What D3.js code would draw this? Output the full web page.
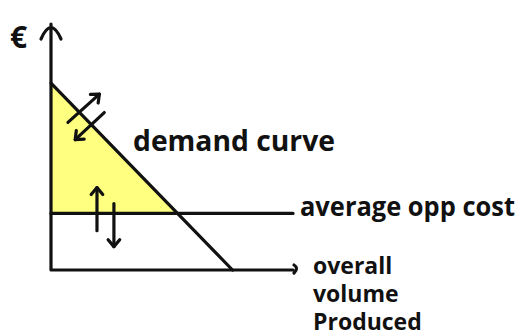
<!DOCTYPE html>
<html>
<head>
<meta charset="utf-8">
<script src="https://cdn.jsdelivr.net/npm/d3@7"></script>
<style>
  html, body { margin: 0; padding: 0; background: #fff; }
  text { font-family: "Open Sans", "DejaVu Sans", sans-serif; font-weight: 700; fill: #111; }
</style>
</head>
<body>
<div id="page"></div>
<script>
// chart values (quantity on x, price in euro on y, both 0..100)
var demandCurve = [[0, 76], [75, 0]];
var avgOppCost = 23;
var axisMax = [100, 100];
var yLabel = "€";
var demandLabel = "demand curve";
var costLabel = "average opp cost";
var xLabelLines = ["overall", "volume", "Produced"];

var width = 524, height = 334;

var svg = d3.select("#page").append("svg")
    .attr("width", width)
    .attr("height", height);

var x = d3.scaleLinear().domain([0, axisMax[0]]).range([51, 293]),
    y = d3.scaleLinear().domain([0, axisMax[1]]).range([270, 24]);

// where demand meets the average opp cost line
var slope = (demandCurve[1][1] - demandCurve[0][1]) / (demandCurve[1][0] - demandCurve[0][0]);
var qCross = demandCurve[0][0] + (avgOppCost - demandCurve[0][1]) / slope;

var line = d3.line().x(function(d) { return x(d[0]); }).y(function(d) { return y(d[1]); });

var ink = function(sel) {
  return sel.attr("fill", "none").attr("stroke", "#111")
    .attr("stroke-width", 3.2).attr("stroke-linecap", "round").attr("stroke-linejoin", "round");
};

// shaded triangle
svg.append("path")
    .attr("d", line([[0, demandCurve[0][1]], [0, avgOppCost], [qCross, avgOppCost]]) + "Z")
    .attr("fill", "#ffff80");

// axes
svg.append("path").attr("d", line([[0, axisMax[1]], [0, 0], [axisMax[0], 0]])).call(ink);
svg.append("path")
    .attr("d", "M" + (x(0) - 10) + "," + (y(axisMax[1]) + 15) + " Q" + x(0) + "," + (y(axisMax[1]) - 8) +
          " " + (x(0) + 10) + "," + (y(axisMax[1]) + 15))
    .call(ink);
svg.append("path")
    .attr("d", "M" + (x(axisMax[0]) + 1) + "," + (y(0) - 5) + " q5,3 0,8")
    .call(ink);

// average opp cost and demand
svg.append("path").attr("d", line([[0, avgOppCost], [axisMax[0], avgOppCost]])).call(ink);
svg.append("path").attr("d", line(demandCurve)).call(ink);

// shift arrows on the demand curve
var arrow = function(p0, p1, head) {
  var a = Math.atan2(y(p1[1]) - y(p0[1]), x(p1[0]) - x(p0[0]));
  var tx = x(p1[0]), ty = y(p1[1]);
  var h = [[tx - head * Math.cos(a - 0.7), ty - head * Math.sin(a - 0.7)], [tx, ty],
           [tx - head * Math.cos(a + 0.7), ty - head * Math.sin(a + 0.7)]];
  svg.append("path").attr("d", line([p0, p1])).call(ink);
  svg.append("path").attr("d", d3.line()(h)).call(ink);
};
arrow([7, 60], [20, 71.5], 9);
arrow([22, 64], [10, 53], 9);
arrow([19, 16], [19, 33.5], 9);
arrow([26, 27], [26, 9.5], 9);

// labels
svg.append("text").attr("x", 10).attr("y", 48).attr("font-size", 30).text(yLabel);
svg.append("text").attr("x", 133).attr("y", 151).attr("font-size", 29)
    .attr("textLength", 202).attr("lengthAdjust", "spacingAndGlyphs").text(demandLabel);
svg.append("text").attr("x", 300).attr("y", 216).attr("font-size", 27)
    .attr("textLength", 215).attr("lengthAdjust", "spacingAndGlyphs").text(costLabel);

var xl = svg.append("text").attr("x", 313).attr("y", 274).attr("font-size", 23);
xl.selectAll("tspan").data(xLabelLines).enter().append("tspan")
    .attr("x", 313).attr("dy", function(d, i) { return i ? 28 : 0; })
    .text(function(d) { return d; });
</script>
</body>
</html>
